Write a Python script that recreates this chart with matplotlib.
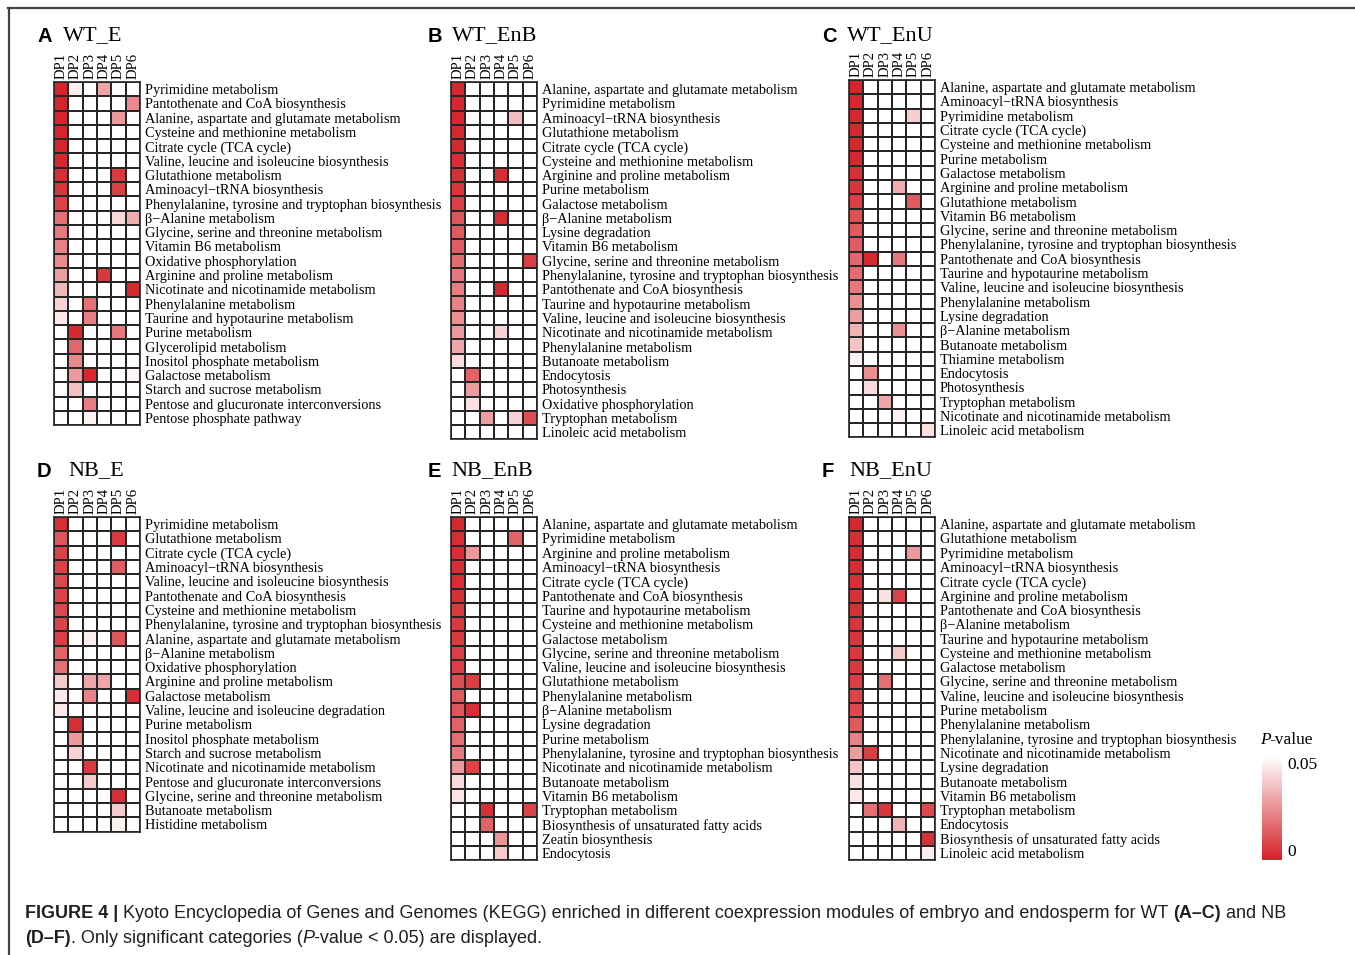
import numpy as np
import matplotlib
matplotlib.use('Agg')
import matplotlib.pyplot as plt
from matplotlib.colors import LinearSegmentedColormap
from matplotlib.lines import Line2D

W, H = 1355, 955
N = None
cols = ['DP1', 'DP2', 'DP3', 'DP4', 'DP5', 'DP6']

# ---------------- data (P-values; None = not significant) ----------------
wt_e_labels = ["Pyrimidine metabolism", "Pantothenate and CoA biosynthesis",
               "Alanine, aspartate and glutamate metabolism", "Cysteine and methionine metabolism",
               "Citrate cycle (TCA cycle)", "Valine, leucine and isoleucine biosynthesis",
               "Glutathione metabolism", "Aminoacyl\u2212tRNA biosynthesis",
               "Phenylalanine, tyrosine and tryptophan biosynthesis", "\u03b2\u2212Alanine metabolism",
               "Glycine, serine and threonine metabolism", "Vitamin B6 metabolism",
               "Oxidative phosphorylation", "Arginine and proline metabolism",
               "Nicotinate and nicotinamide metabolism", "Phenylalanine metabolism",
               "Taurine and hypotaurine metabolism", "Purine metabolism",
               "Glycerolipid metabolism", "Inositol phosphate metabolism",
               "Galactose metabolism", "Starch and sucrose metabolism",
               "Pentose and glucuronate interconversions", "Pentose phosphate pathway"]
wt_e_p = [[0.001, 0.046, N, 0.030, N, N],
          [0.001, N, N, N, N, 0.024],
          [0.001, N, N, N, 0.027, N],
          [0.001, N, N, N, N, N],
          [0.001, N, N, N, N, N],
          [0.002, N, N, N, N, N],
          [0.004, N, N, N, 0.006, N],
          [0.005, N, N, N, 0.007, N],
          [0.008, N, N, N, N, N],
          [0.018, N, N, N, 0.041, 0.032],
          [0.020, N, N, N, N, N],
          [0.022, N, N, N, N, N],
          [0.024, N, N, N, N, N],
          [0.028, N, N, 0.006, N, N],
          [0.034, N, N, N, N, 0.002],
          [0.040, N, 0.018, N, N, N],
          [0.045, N, 0.021, N, N, N],
          [N, 0.002, N, N, 0.020, N],
          [N, 0.016, N, N, N, N],
          [N, 0.024, N, N, N, N],
          [N, 0.027, 0.002, N, N, 0.048],
          [N, 0.036, N, N, N, N],
          [N, N, 0.021, N, N, N],
          [N, N, 0.047, N, N, N]]

wt_enb_labels = ["Alanine, aspartate and glutamate metabolism", "Pyrimidine metabolism",
                 "Aminoacyl\u2212tRNA biosynthesis", "Glutathione metabolism",
                 "Citrate cycle (TCA cycle)", "Cysteine and methionine metabolism",
                 "Arginine and proline metabolism", "Purine metabolism",
                 "Galactose metabolism", "\u03b2\u2212Alanine metabolism",
                 "Lysine degradation", "Vitamin B6 metabolism",
                 "Glycine, serine and threonine metabolism",
                 "Phenylalanine, tyrosine and tryptophan biosynthesis",
                 "Pantothenate and CoA biosynthesis", "Taurine and hypotaurine metabolism",
                 "Valine, leucine and isoleucine biosynthesis", "Nicotinate and nicotinamide metabolism",
                 "Phenylalanine metabolism", "Butanoate metabolism", "Endocytosis",
                 "Photosynthesis", "Oxidative phosphorylation", "Tryptophan metabolism",
                 "Linoleic acid metabolism"]
wt_enb_p = [[0.002, N, N, N, N, N],
            [0.002, N, N, N, N, N],
            [0.002, N, N, N, 0.035, N],
            [0.002, N, N, N, N, N],
            [0.002, N, N, N, N, N],
            [0.003, N, N, N, N, N],
            [0.004, N, N, 0.003, N, N],
            [0.005, N, N, N, N, N],
            [0.007, N, N, N, N, N],
            [0.012, N, N, 0.003, N, N],
            [0.013, N, N, N, N, N],
            [0.014, N, N, N, N, N],
            [0.017, N, N, N, N, 0.007],
            [0.020, N, N, N, N, N],
            [0.021, N, N, 0.002, N, N],
            [0.022, N, N, N, N, N],
            [0.025, N, N, N, N, N],
            [0.027, N, N, 0.040, N, N],
            [0.030, N, N, N, N, N],
            [0.042, N, N, N, N, N],
            [N, 0.015, N, N, N, N],
            [N, 0.028, N, N, N, N],
            [N, 0.043, N, N, N, N],
            [N, N, 0.028, N, 0.040, 0.010],
            [N, N, N, N, N, N]]

wt_enu_labels = ["Alanine, aspartate and glutamate metabolism", "Aminoacyl\u2212tRNA biosynthesis",
                 "Pyrimidine metabolism", "Citrate cycle (TCA cycle)",
                 "Cysteine and methionine metabolism", "Purine metabolism",
                 "Galactose metabolism", "Arginine and proline metabolism",
                 "Glutathione metabolism", "Vitamin B6 metabolism",
                 "Glycine, serine and threonine metabolism",
                 "Phenylalanine, tyrosine and tryptophan biosynthesis",
                 "Pantothenate and CoA biosynthesis", "Taurine and hypotaurine metabolism",
                 "Valine, leucine and isoleucine biosynthesis", "Phenylalanine metabolism",
                 "Lysine degradation", "\u03b2\u2212Alanine metabolism", "Butanoate metabolism",
                 "Thiamine metabolism", "Endocytosis", "Photosynthesis",
                 "Tryptophan metabolism", "Nicotinate and nicotinamide metabolism",
                 "Linoleic acid metabolism"]
wt_enu_p = [[0.001, N, N, N, N, N],
            [0.002, N, N, N, N, N],
            [0.002, N, N, N, 0.039, N],
            [0.002, N, N, N, N, N],
            [0.002, N, N, N, N, N],
            [0.002, N, N, N, N, N],
            [0.004, N, N, N, N, N],
            [0.005, N, N, 0.032, N, N],
            [0.007, N, N, N, 0.013, N],
            [0.011, N, N, N, N, N],
            [0.013, N, N, N, N, N],
            [0.014, N, N, N, N, N],
            [0.016, 0.002, N, 0.020, N, N],
            [0.017, N, N, N, N, N],
            [0.020, N, N, N, N, N],
            [0.025, N, N, N, N, N],
            [0.028, N, N, N, N, N],
            [0.033, N, N, 0.025, N, N],
            [0.037, N, N, N, N, N],
            [0.047, N, N, N, N, N],
            [N, 0.025, N, N, N, N],
            [N, 0.042, N, N, N, N],
            [N, N, 0.030, N, N, N],
            [N, N, N, 0.047, N, N],
            [N, N, N, N, N, 0.043]]

nb_e_labels = ["Pyrimidine metabolism", "Glutathione metabolism", "Citrate cycle (TCA cycle)",
               "Aminoacyl\u2212tRNA biosynthesis", "Valine, leucine and isoleucine biosynthesis",
               "Pantothenate and CoA biosynthesis", "Cysteine and methionine metabolism",
               "Phenylalanine, tyrosine and tryptophan biosynthesis",
               "Alanine, aspartate and glutamate metabolism", "\u03b2\u2212Alanine metabolism",
               "Oxidative phosphorylation", "Arginine and proline metabolism",
               "Galactose metabolism", "Valine, leucine and isoleucine degradation",
               "Purine metabolism", "Inositol phosphate metabolism",
               "Starch and sucrose metabolism", "Nicotinate and nicotinamide metabolism",
               "Pentose and glucuronate interconversions", "Glycine, serine and threonine metabolism",
               "Butanoate metabolism", "Histidine metabolism"]
nb_e_p = [[0.003, N, N, N, N, N],
          [0.012, N, N, N, 0.006, N],
          [0.008, N, N, N, N, N],
          [0.008, N, N, N, 0.014, N],
          [0.009, N, N, N, N, N],
          [0.008, N, N, N, N, N],
          [0.009, N, N, N, N, N],
          [0.008, N, N, N, N, N],
          [0.007, N, 0.046, N, 0.012, N],
          [0.015, N, N, N, N, N],
          [0.018, N, N, N, N, N],
          [0.038, N, 0.030, 0.030, N, N],
          [0.045, N, 0.022, N, N, 0.003],
          [0.045, N, N, N, N, N],
          [N, 0.003, N, N, N, N],
          [N, 0.027, N, N, N, N],
          [N, 0.040, N, N, N, N],
          [N, N, 0.006, N, N, N],
          [N, N, 0.038, N, N, N],
          [N, N, N, N, 0.003, N],
          [N, N, N, N, 0.038, N],
          [N, N, N, N, 0.047, N]]

nb_enb_labels = ["Alanine, aspartate and glutamate metabolism", "Pyrimidine metabolism",
                 "Arginine and proline metabolism", "Aminoacyl\u2212tRNA biosynthesis",
                 "Citrate cycle (TCA cycle)", "Pantothenate and CoA biosynthesis",
                 "Taurine and hypotaurine metabolism", "Cysteine and methionine metabolism",
                 "Galactose metabolism", "Glycine, serine and threonine metabolism",
                 "Valine, leucine and isoleucine biosynthesis", "Glutathione metabolism",
                 "Phenylalanine metabolism", "\u03b2\u2212Alanine metabolism", "Lysine degradation",
                 "Purine metabolism", "Phenylalanine, tyrosine and tryptophan biosynthesis",
                 "Nicotinate and nicotinamide metabolism", "Butanoate metabolism",
                 "Vitamin B6 metabolism", "Tryptophan metabolism",
                 "Biosynthesis of unsaturated fatty acids", "Zeatin biosynthesis", "Endocytosis"]
nb_enb_p = [[0.002, N, N, N, N, N],
            [0.003, N, N, N, 0.015, N],
            [0.003, 0.027, N, N, N, N],
            [0.003, N, N, N, N, N],
            [0.003, N, N, N, N, N],
            [0.004, N, N, N, N, N],
            [0.006, N, N, N, N, N],
            [0.006, N, N, N, N, N],
            [0.006, N, N, N, N, N],
            [0.007, N, N, N, N, N],
            [0.007, N, N, N, N, N],
            [0.010, 0.007, N, N, N, N],
            [0.013, N, N, N, N, N],
            [0.012, 0.003, N, N, N, N],
            [0.015, N, N, N, N, N],
            [0.018, N, N, N, N, N],
            [0.020, N, N, N, N, N],
            [0.027, 0.008, N, N, N, N],
            [0.042, N, N, N, N, N],
            [0.044, N, N, N, N, N],
            [N, N, 0.004, N, N, 0.008],
            [N, N, 0.015, N, N, N],
            [N, N, N, 0.026, N, N],
            [N, N, N, 0.038, N, N]]

nb_enu_labels = ["Alanine, aspartate and glutamate metabolism", "Glutathione metabolism",
                 "Pyrimidine metabolism", "Aminoacyl\u2212tRNA biosynthesis",
                 "Citrate cycle (TCA cycle)", "Arginine and proline metabolism",
                 "Pantothenate and CoA biosynthesis", "\u03b2\u2212Alanine metabolism",
                 "Taurine and hypotaurine metabolism", "Cysteine and methionine metabolism",
                 "Galactose metabolism", "Glycine, serine and threonine metabolism",
                 "Valine, leucine and isoleucine biosynthesis", "Purine metabolism",
                 "Phenylalanine metabolism", "Phenylalanine, tyrosine and tryptophan biosynthesis",
                 "Nicotinate and nicotinamide metabolism", "Lysine degradation",
                 "Butanoate metabolism", "Vitamin B6 metabolism", "Tryptophan metabolism",
                 "Endocytosis", "Biosynthesis of unsaturated fatty acids",
                 "Linoleic acid metabolism"]
nb_enu_p = [[0.002, N, N, N, N, N],
            [0.003, N, N, N, N, N],
            [0.003, N, N, N, 0.027, N],
            [0.003, N, N, N, N, N],
            [0.004, N, N, N, N, N],
            [0.004, N, 0.043, 0.008, N, N],
            [0.004, N, N, N, N, N],
            [0.005, N, N, N, N, N],
            [0.005, N, N, N, N, N],
            [0.006, N, N, 0.038, N, N],
            [0.006, N, N, N, N, N],
            [0.007, N, 0.018, N, N, N],
            [0.008, N, N, N, N, N],
            [0.009, N, N, N, N, N],
            [0.013, N, N, N, N, N],
            [0.022, N, N, N, N, N],
            [0.028, 0.007, N, N, N, N],
            [0.037, N, N, N, N, N],
            [0.043, N, N, N, N, N],
            [0.045, N, N, N, N, N],
            [N, 0.018, 0.005, N, N, 0.009],
            [N, N, N, 0.033, N, N],
            [N, N, N, N, N, 0.004],
            [N, N, N, N, N, 0.046]]

panel_letters = ['A', 'B', 'C', 'D', 'E', 'F']
panel_titles = ['WT_E', 'WT_EnB', 'WT_EnU', 'NB_E', 'NB_EnB', 'NB_EnU']
panel_labels = [wt_e_labels, wt_enb_labels, wt_enu_labels, nb_e_labels, nb_enb_labels, nb_enu_labels]
panel_values = [wt_e_p, wt_enb_p, wt_enu_p, nb_e_p, nb_enb_p, nb_enu_p]

# ---------------- layout (pixels) ----------------
cell = 14.3
grid_pos = [(54, 82), (451, 82), (849, 80), (54, 517), (451, 517), (849, 517)]
letter_pos = [(38, 36), (428, 36), (822, 36), (37, 471), (428, 471), (822, 471)]
title_pos = [(63, 36), (452, 36), (847, 36), (68, 471), (451, 471), (849, 471)]

serif = ['Liberation Serif', 'DejaVu Serif']
sans = ['Liberation Sans', 'DejaVu Sans']

cmap = LinearSegmentedColormap.from_list('pv', ['#D42027', '#FFFFFF'])
cmap.set_bad('white')

fig = plt.figure(figsize=(W / 100, H / 100), dpi=100)
fig.patch.set_facecolor('white')

def px_axes(x, y, w, h):
    return fig.add_axes([x / W, 1 - (y + h) / H, w / W, h / H])

mesh = None
for i in range(6):
    labels = panel_labels[i]
    vals = np.array([[np.nan if v is None else v for v in row] for row in panel_values[i]], dtype=float)
    n = len(labels)
    gx, gy = grid_pos[i]
    ax = px_axes(gx, gy, 6 * cell, n * cell)
    mesh = ax.pcolormesh(np.ma.masked_invalid(vals), cmap=cmap, vmin=0, vmax=0.05,
                         edgecolors='#262626', linewidth=1.15)
    ax.set_xlim(0, 6)
    ax.set_ylim(n, 0)
    for s in ax.spines.values():
        s.set_color('#262626')
        s.set_linewidth(1.2)
    ax.yaxis.tick_right()
    ax.set_yticks(np.arange(n) + 0.5)
    ax.set_yticklabels(labels, family=serif, fontsize=10.3)
    ax.xaxis.tick_top()
    ax.set_xticks(np.arange(6) + 0.5)
    ax.set_xticklabels(cols, family=serif, fontsize=10.6, rotation=90)
    ax.tick_params(axis='y', length=0, pad=3.5)
    ax.tick_params(axis='x', length=0, pad=2)

    lx, ly = letter_pos[i]
    fig.text(lx / W, 1 - ly / H, panel_letters[i], family=sans, weight='bold',
             fontsize=14.5, va='center', ha='left')
    tx, ty = title_pos[i]
    fig.text(tx / W, 1 - ty / H, panel_titles[i], family=serif, fontsize=16,
             va='center', ha='left')

# ---------------- colorbar ----------------
cax = px_axes(1262, 757, 20, 103)
cb = fig.colorbar(mesh, cax=cax, ticks=[0, 0.05])
cb.outline.set_visible(False)
cb.set_ticklabels(['0', '0.05'])
cax.tick_params(length=0, pad=4, labelsize=12.5)
tls = cax.get_yticklabels()
for t in tls:
    t.set_family(serif)
tls[0].set_va('bottom')
tls[1].set_va('top')
fig.text(1260 / W, 1 - 740 / H, 'P', family=serif, style='italic', fontsize=12.5,
         va='center', ha='left')
fig.text(1269 / W, 1 - 740 / H, '-value', family=serif, fontsize=12.5,
         va='center', ha='left')

# ---------------- frame lines ----------------
fig.add_artist(Line2D([8 / W, 1], [1 - 8.5 / H, 1 - 8.5 / H], transform=fig.transFigure,
                      color='#444444', lw=1.6))
fig.add_artist(Line2D([8.5 / W, 8.5 / W], [0, 1 - 8 / H], transform=fig.transFigure,
                      color='#444444', lw=1.6))

# ---------------- caption ----------------
cap_color = '#231f20'
line1 = [("FIGURE 4 |", 'bold', 'normal'),
         (" Kyoto Encyclopedia of Genes and Genomes (KEGG) enriched in different coexpression modules of embryo and endosperm for WT ", 'normal', 'normal'),
         ("(A\u2013C)", 'bold', 'normal'),
         (" and NB", 'normal', 'normal')]
line2 = [("(D\u2013F)", 'bold', 'normal'),
         (". Only significant categories (", 'normal', 'normal'),
         ("P", 'normal', 'italic'),
         ("-value < 0.05) are displayed.", 'normal', 'normal')]

renderer = fig.canvas.get_renderer()

def draw_line(segs, x0, y, fs):
    x = x0
    arts = []
    for txt, wt, st in segs:
        t = fig.text(x / W, 1 - y / H, txt, family=sans, weight=wt, style=st,
                     fontsize=fs, color=cap_color, va='center', ha='left')
        bb = t.get_window_extent(renderer)
        x += bb.width
        arts.append(t)
    return x - x0, arts

fs = 12.5
w1, arts = draw_line(line1, 25, 913, fs)
for a in arts:
    a.remove()
fs = fs * 1265 / w1
draw_line(line1, 25, 913, fs)
draw_line(line2, 25, 938, fs)

fig.savefig('out.png', dpi=100, facecolor='white')
